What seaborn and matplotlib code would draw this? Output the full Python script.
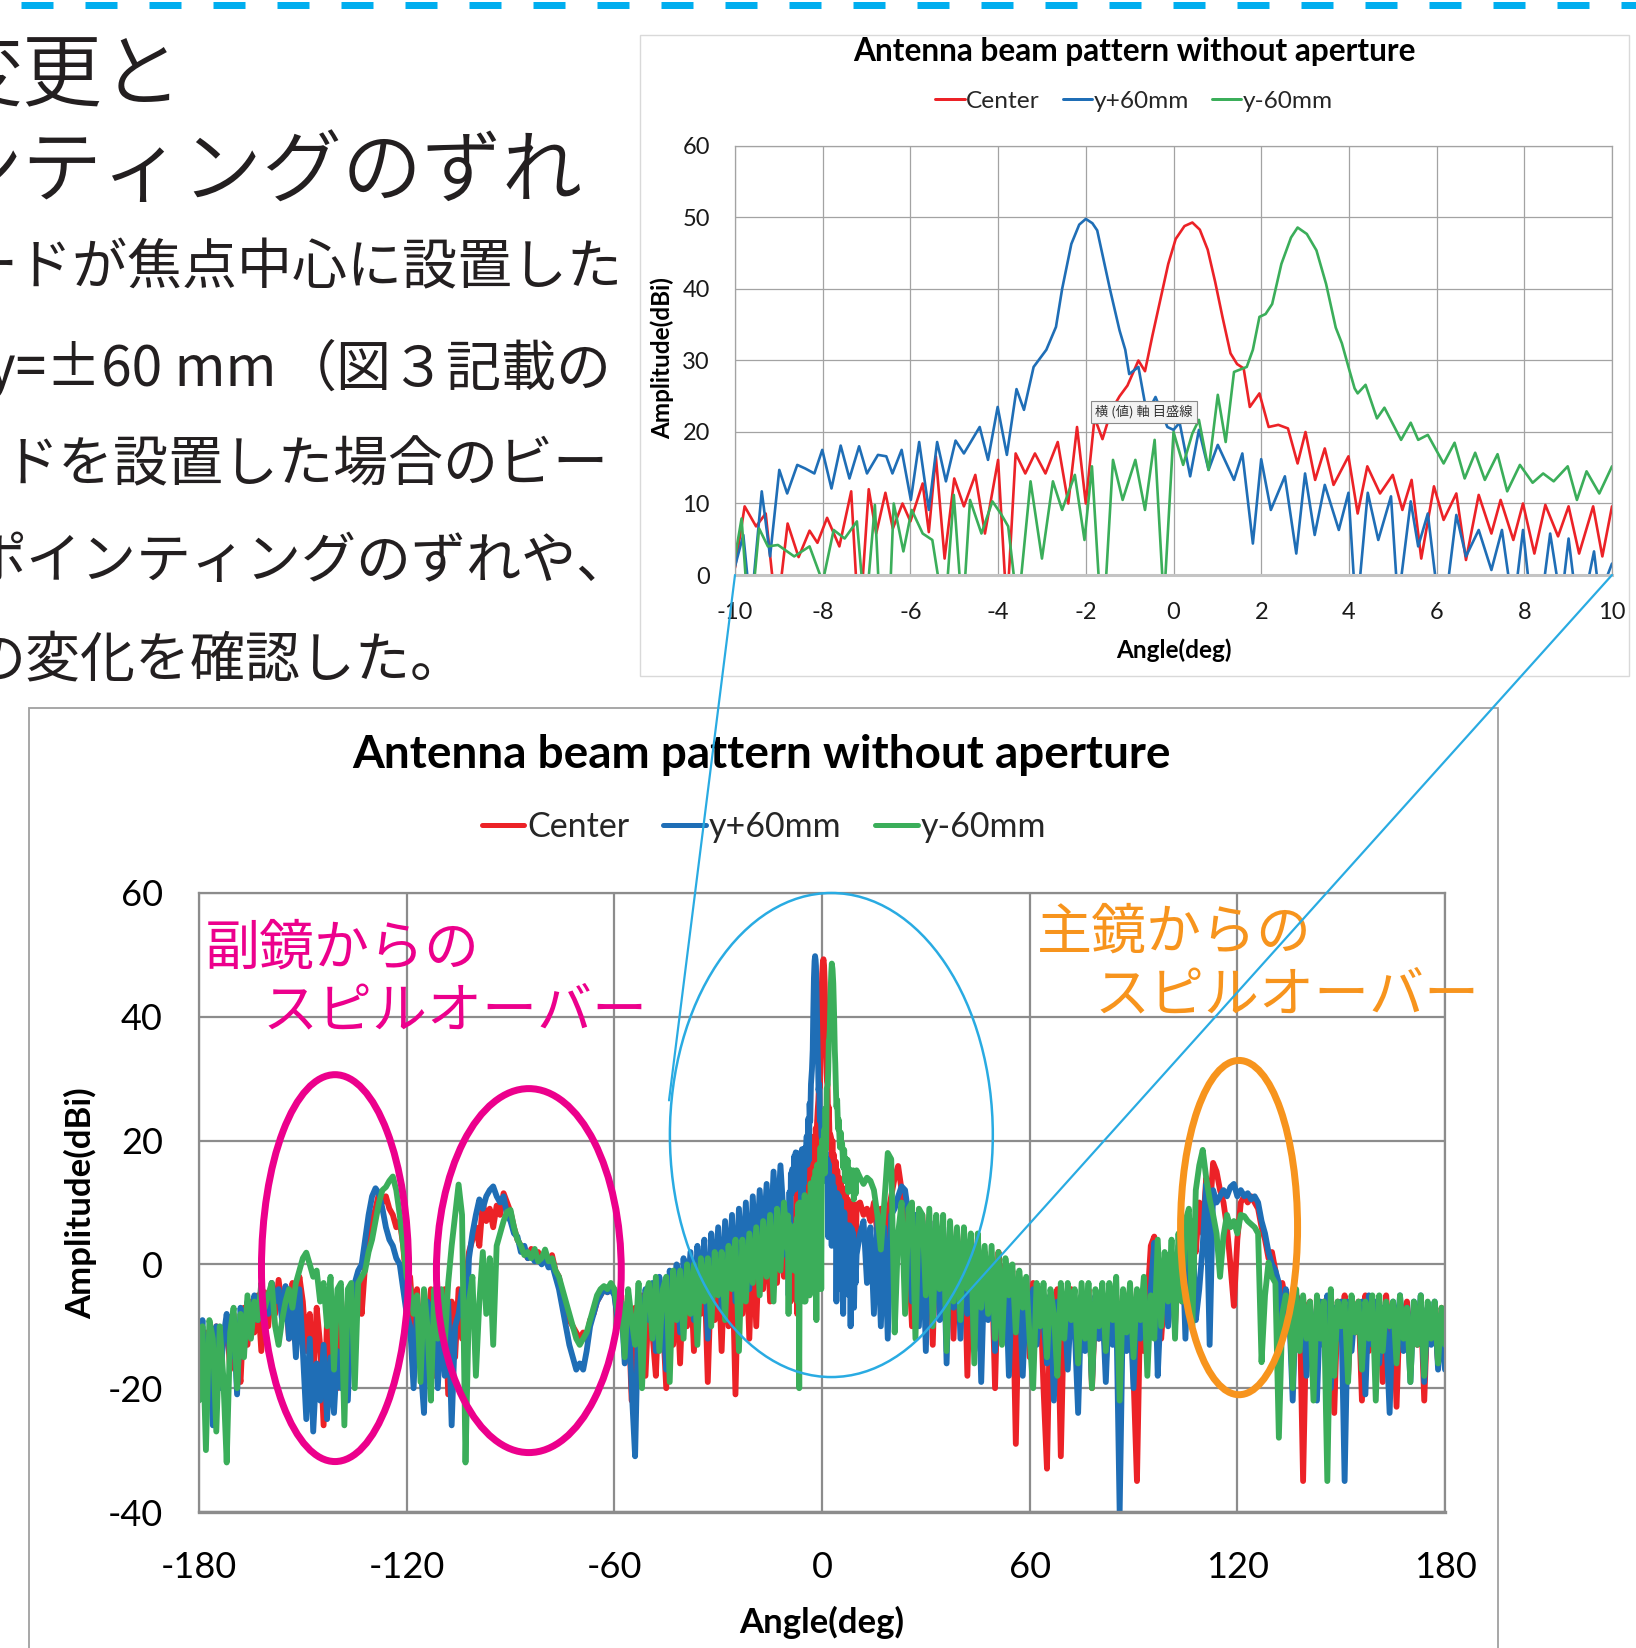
import numpy as np
import pandas as pd
import matplotlib
matplotlib.use("Agg")
import matplotlib.pyplot as plt
import seaborn as sns
from matplotlib.patches import Ellipse, Rectangle, ConnectionPatch
from matplotlib.lines import Line2D

# ------------------------------------------------------------------ data
series_names = ["Center", "y+60mm", "y-60mm"]
series_colors = ["#EC2227", "#1F6EB6", "#3BAE5A"]

main_xticks = [-180, -120, -60, 0, 60, 120, 180]
main_yticks = [-40, -20, 0, 20, 40, 60]
inset_xticks = [-10, -8, -6, -4, -2, 0, 2, 4, 6, 8, 10]
inset_yticks = [0, 10, 20, 30, 40, 50, 60]

# zoomed pattern (-10..10 deg)
inset_angle_center = [-10.0, -9.78, -9.52, -9.3, -9.05, -8.8, -8.55, -8.3, -8.12, -7.9,
                      -7.62, -7.35, -7.17, -6.95, -6.78, -6.57, -6.4, -6.18, -6.0, -5.72,
                      -5.58, -5.42, -5.22, -5.0, -4.78, -4.52, -4.3, -4.0, -3.8, -3.6,
                      -3.38, -3.16, -2.92, -2.64, -2.4, -2.2, -2.0, -1.8, -1.62, -1.42,
                      -1.23, -1.05, -0.8, -0.65, -0.48, -0.3, -0.12, 0.05, 0.25, 0.43,
                      0.6, 0.78, 0.95, 1.12, 1.3, 1.45, 1.6, 1.74, 1.96, 2.17,
                      2.39, 2.61, 2.83, 3.01, 3.23, 3.45, 3.65, 3.99, 4.2, 4.42,
                      4.71, 5.0, 5.22, 5.43, 5.65, 5.94, 6.16, 6.45, 6.67, 6.96,
                      7.25, 7.46, 7.75, 7.97, 8.23, 8.48, 8.77, 9.01, 9.25, 9.57,
                      9.78, 10.0]
inset_amp_center = [1.0, 9.6, 6.8, 8.6, -6.0, 7.2, 2.5, 6.2, 4.5, 8.0,
                    4.0, 11.7, -8.0, 12.0, 5.8, 11.5, 6.5, 10.0, 7.5, 12.8,
                    6.0, 16.6, 2.3, 13.5, 9.6, 14.0, 5.8, 16.1, -5.0, 17.0,
                    14.2, 17.0, 14.2, 18.6, 10.0, 20.7, 10.0, 22.0, 19.0, 23.0,
                    25.0, 26.5, 30.0, 28.5, 33.5, 38.5, 43.5, 47.0, 48.8, 49.3,
                    48.3, 45.5, 41.0, 36.0, 31.0, 29.5, 28.9, 23.5, 25.4, 20.7,
                    21.0, 20.5, 15.6, 20.0, 13.3, 17.7, 12.6, 16.6, 8.6, 15.2,
                    11.4, 14.0, 9.1, 13.3, 2.3, 12.4, 7.7, 11.4, 2.1, 11.2,
                    5.8, 10.5, 4.9, 10.0, 3.0, 9.8, 5.4, 9.6, 3.0, 9.6,
                    2.6, 9.6]

inset_angle_yplus = [-10.0, -9.81, -9.64, -9.39, -9.2, -8.99, -8.81, -8.58, -8.4, -8.19,
                     -8.01, -7.8, -7.59, -7.39, -7.17, -6.99, -6.74, -6.55, -6.41, -6.2,
                     -5.99, -5.8, -5.58, -5.39, -5.19, -4.97, -4.78, -4.42, -4.23, -4.01,
                     -3.8, -3.58, -3.41, -3.19, -2.9, -2.68, -2.54, -2.33, -2.15, -2.0,
                     -1.85, -1.74, -1.45, -1.23, -1.1, -1.01, -0.8, -0.65, -0.56, -0.41,
                     -0.14, 0.0, 0.14, 0.38, 0.58, 0.8, 1.01, 1.38, 1.57, 1.81,
                     2.0, 2.22, 2.54, 2.8, 3.0, 3.22, 3.45, 3.77, 3.99, 4.17,
                     4.43, 4.67, 4.96, 5.12, 5.41, 5.58, 5.8, 6.12, 6.45, 6.67,
                     6.96, 7.25, 7.49, 7.75, 7.97, 8.26, 8.59, 8.84, 9.01, 9.25,
                     9.59, 9.71, 10.0]
inset_amp_yplus = [1.2, 5.6, -5.0, 11.7, 2.6, 14.7, 11.4, 15.4, 14.9, 14.2,
                   17.5, 12.1, 18.1, 13.5, 18.0, 14.2, 16.8, 16.6, 14.2, 17.5,
                   10.5, 18.6, 9.1, 18.6, 13.1, 18.8, 17.0, 20.7, 16.1, 23.5,
                   16.8, 26.0, 23.1, 29.1, 31.5, 34.7, 40.0, 46.3, 49.0, 49.8,
                   49.2, 48.2, 40.0, 34.2, 31.5, 28.1, 29.1, 24.0, 23.1, 24.9,
                   20.7, 20.3, 21.3, 13.8, 20.3, 14.7, 18.2, 13.3, 17.0, 4.4,
                   16.2, 9.1, 13.8, 3.0, 14.2, 5.6, 12.6, 6.3, 11.5, -6.0,
                   11.5, 4.9, 11.0, -4.0, 10.3, 4.0, 8.6, -8.0, 8.4, 2.6,
                   6.3, 0.7, 6.3, -5.0, 6.3, -10.0, 5.8, -4.0, 5.1, -7.0,
                   3.3, -3.0, 1.6]

inset_angle_yminus = [-10.0, -9.85, -9.67, -9.45, -9.25, -9.02, -8.65, -8.3, -8.0, -7.75,
                      -7.5, -7.22, -7.03, -6.81, -6.58, -6.38, -6.16, -5.97, -5.72, -5.5,
                      -5.22, -5.01, -4.81, -4.64, -4.38, -4.13, -3.94, -3.77, -3.55, -3.26,
                      -3.0, -2.75, -2.54, -2.25, -2.03, -1.86, -1.62, -1.38, -1.16, -0.87,
                      -0.65, -0.43, -0.22, 0.0, 0.22, 0.43, 0.58, 0.8, 1.01, 1.19,
                      1.38, 1.67, 1.81, 1.96, 2.1, 2.25, 2.46, 2.68, 2.83, 3.04,
                      3.26, 3.48, 3.7, 3.84, 3.99, 4.13, 4.2, 4.38, 4.64, 4.81,
                      5.19, 5.41, 5.58, 5.8, 6.16, 6.41, 6.64, 6.88, 7.1, 7.39,
                      7.61, 7.9, 8.19, 8.43, 8.67, 8.99, 9.2, 9.42, 9.71, 10.0]
inset_amp_yminus = [2.5, 7.9, -8.0, 6.5, 4.0, 4.2, 2.6, 4.0, -1.0, 6.3,
                    5.1, 7.5, -6.0, 9.8, -20.0, 10.0, 3.3, 9.1, 5.8, 4.9,
                    -6.0, 11.2, -6.0, 10.5, 5.8, 10.3, 8.6, 6.8, -5.0, 13.1,
                    2.3, 13.1, 9.1, 14.0, 4.9, 15.2, -9.0, 16.1, 10.5, 16.1,
                    9.1, 18.9, -4.0, 20.0, 15.4, 19.8, 21.7, 14.7, 25.2, 18.6,
                    28.4, 29.1, 31.5, 36.1, 36.5, 37.9, 43.5, 47.2, 48.6, 47.7,
                    45.4, 40.7, 34.6, 32.4, 29.1, 26.1, 25.4, 26.6, 21.9, 23.4,
                    18.9, 21.3, 18.9, 19.6, 15.6, 18.5, 13.5, 17.1, 13.3, 16.9,
                    11.7, 15.4, 12.9, 14.2, 13.1, 15.2, 10.5, 14.5, 11.4, 15.2]

# wide pattern outside +-10 deg, 1-degree sampling
outer_angle_left = list(range(-180, -10))   # -180 .. -11
outer_angle_right = list(range(11, 181))    # 11 .. 180

outer_left_center = [-14, -20, -11, -16, -22, -10, -18, -12, -9, -17,
                     -8, -15, -19, -7, -13, -6, -11, -5, -14, -4.5,
                     -10, -3, -8, -2.5, -7, -4, -12, -3, -9, -2,
                     -6, -14, -8, -19, -7, -13, -26, -9, -16, -8,
                     -20, -9, -14, -6, -11, -5, -3, -8, 0, 4,
                     7, 9, 11.5, 10, 11, 9, 8, 6, 7, 3,
                     -4, -2, -10, -4, -15, -6, -12, -4, -18, -5,
                     -10, -4, -21, -6, -15, -4, -12, -3, 2, 4,
                     6, 3, 10, 7, 9, 6, 9.5, 8, 11.5, 10,
                     8.5, 6, 4, 3, 2, 1, 2.5, 1, 2, 0.5,
                     1, 0, 1.5, -1, -2, -5, -7, -9, -10, -11,
                     -12, -11, -12, -9, -8, -6, -5, -4, -4.5, -3.5,
                     -4, -10, -5, -14, -6, -22, -7, -12, -5, -18,
                     -5, -11, -18, -4, -9, -20, -4, -13, -3, -16,
                     -2, -10, -1, -14, -2, -8, 0, -19, -1, -9,
                     1, -14, 2, -10, 3, -21, 3, -8, 4, -12,
                     5, -10, 6, -4, 7, -6, 9, -3, 10, -2]
outer_left_yplus = [-18, -9, -24, -11, -26, -10, -20, -12, -8, -15,
                    -9, -21, -7, -14, -6, -11, -5, -9, -4, -7,
                    -8, -3, -6, -4, -9, -3.5, -12, -6, -15, -4,
                    -14, -25, -12, -27, -16, -22, -13, -25, -15, -24,
                    -14, -20, -10, -22, -8, -3, -1, 0, 4, 8,
                    11, 12.3, 11.5, 9, 6, 4, 3, 1, 0, -4,
                    -8, -10, -20, -7, -16, -24, -6, -12, -5, -20,
                    -8, -18, -6, -26, -10, -8, -4, -14, 1, 5,
                    8, 10.5, 9, 11, 12, 12.6, 11, 10, 11, 8,
                    7, 5, 4.5, 2, 3, 1, 1.5, 0.5, 1, 0,
                    1, -0.5, 0, -2, -4, -7, -10, -13, -15, -17,
                    -16, -17, -14, -10, -8, -6, -5, -4, -4.5, -4,
                    -5, -9, -6, -16, -5, -20, -31, -6, -12, -4,
                    -9, -3, -14, -2, -8, -17, -1, -7, 0, -11,
                    1, -6, 2, -9, 3, -5, 4, -12, 5, -4,
                    6, -7, 7, -3, 8, -6, 9, -2, 10, -4,
                    11, 0, 12, 3, 13, 2, 15, 5, 16, 7]
outer_left_yminus = [-22, -10, -30, -9, -12, -27, -10, -18, -32, -11,
                     -7, -20, -8, -15, -5, -12, -6, -9, -3, -7,
                     -5, -3, -10, -13, -9, -6, -4, -7, -3, -1,
                     1, 1.9, 0, -2, -1, -6, -3, -10, -2, -17,
                     -4, -3, -26, -4, -3, -20, -3, -2, -1, 2,
                     4, 7, 10, 12, 12.5, 13.5, 14.2, 12, 8, 3,
                     -2, -4, -8, -5, -19, -4, -10, -22, -4, -12,
                     -4, -13, -3, 3, 8, 12.9, 8, -32, -6, -2,
                     -18, -6, 2, -8, 1, -13, 3, 5, 7, 8.5,
                     8.8, 6, 4, 3, 1.5, 2, 1, 2.5, 0.5, 1,
                     2.4, 0.5, 1, -1, -2, -4, -6, -8, -10, -12,
                     -13, -12, -11, -9, -7, -5, -4, -3.5, -4, -3,
                     -4, -8, -6, -15, -4, -9, -13, -3, -20, -5,
                     -3, -12, -2, -14, -4, -2, -19, -1, -9, -1,
                     -12, 0, -8, 0, -13, 1, -6, 1, -10, 2,
                     -5, 2, -9, 3, -4, 4, -14, 4, -6, 5,
                     -3, 6, -5, 7, -2, 8, -6, 9, -1, 10]

outer_right_center = [10, 8, 9, 7, 10, 5, 9, -6, 8, 11,
                      14, 15.9, 12, 6, 2, -10, 7, -4, 8, -6,
                      7, -13, 6, -5, 5, -8, 6, -12, 4, -3,
                      5, -18, 3, -6, 4, -10, 2, -4, 1, -20,
                      2, -12, 0, -6, -1, -29, -2, -9, -3, -15,
                      -3, -12, -4, -20, -33, -5, -12, -4, -31, -6,
                      -14, -4, -9, -17, -5, -10, -4, -20, -6, -12,
                      -5, -16, -4, -11, -5, -15, -6, -9, -4, -18,
                      -35, -5, -14, -6, 3, 4.5, -8, -12, -4, -8,
                      0, -10, 3, -6, 4, -8, 6, 2, 10, 5,
                      14, 8, 16.4, 15, 12, 10, 6, 0, -6.7, 4,
                      10, 11, 10, 11, 10, 9, 6, 4, 1, 2,
                      -1, -4, -3, -6, -8, -16, -5, -6, -35, -7,
                      -6, -20, -7, -13, -6, -9, -5, -24, -6, -12,
                      -5, -18, -7, -11, -6, -22, -5, -14, -7, -10,
                      -6, -19, -5, -12, -7, -23, -6, -10, -6, -15,
                      -7, -13, -6, -22, -7, -11, -8, -16, -7, -10]
outer_right_yplus = [5, 7, -3, 6, -8, 7, -10, 6, -12, 8,
                     9, 11, 12.6, 12, 8, -6, 8, -10, 7, -14,
                     7, -5, 6, -9, 6, -16, 5, -7, 4, -12,
                     4, -8, 3, -14, 2, -19, 1, -9, 1, -14,
                     0, -10, -1, -18, -2, -8, -3, -18, -4, -11,
                     -4, -13, -5, -9, -16, -5, -22, -6, -11, -5,
                     -17, -6, -10, -24, -5, -14, -6, -19, -5, -12,
                     -6, -19, -5, -13, -6, -40, -5, -14, -6, -20,
                     -6, -12, -5, -14, -4, 3.5, -18, -5, -3, -10,
                     -3, -8, 2, 6, -12, 4, 7, -9, -4, 3,
                     13, -13, 12, 10, 11, 12, 11, 12.5, 13, 11,
                     12, 11, 11.5, 10.5, 11, 10, 7, 5, 2, 0,
                     -1, -3, -12, -4, -8, -22, -5, -12, -6, -18,
                     -7, -11, -22, -6, -13, -5, -20, -7, -12, -6,
                     -35, -6, -14, -7, -10, -6, -21, -5, -13, -6,
                     -16, -7, -11, -24, -6, -13, -5, -14, -7, -19,
                     -6, -12, -5, -19, -7, -13, -6, -17, -8, -17]
outer_right_yminus = [14, 13, 14, 13.5, 12, 8, 2.4, 10, 18, 17,
                      -11, 5, 10, -8, 9, 10, -12, 9, 8, -5,
                      9, -10, 8, -4, 8, -14, 7, -6, 6, -9,
                      6, -4, 5, -16, 5, -7, 3, -8, 3, -12,
                      2, -13, 1, -5, 0, -11, -1, -7, -2, -12,
                      -20, -3, -10, -3, -15, -4, -8, -18, -3, -12,
                      -3, -9, -4, -16, -3, -12, -3, -20, -4, -10,
                      -3, -14, -3, -9, -2, -22, -4, -11, -3, -15,
                      -4, -9, -2, -18, -5, -12, 4, -10, 2, -6,
                      4, -12, 5, -6, 7, 9, -10, 12, 16, 18.5,
                      14, 10.5, 8, 5, -2, 4.6, 8, 6, 7, 5,
                      8, 7.8, 7, 6.5, 6, 5, -15.8, -5, 0.3, -2,
                      -3, -28, -8, -5, -6, -20, -4, -14, -5, -12,
                      -6, -22, -5, -12, -6, -35, -4, -18, -6, -10,
                      -6, -19, -5, -11, -6, -17, -6, -12, -5, -22,
                      -5, -14, -6, -10, -6, -16, -5, -12, -7, -19,
                      -6, -13, -5, -18, -6, -12, -6, -16, -7, -13]

# ------------------------------------------------------------------ tables
parts = {
    "Center": (inset_angle_center, inset_amp_center, outer_left_center, outer_right_center),
    "y+60mm": (inset_angle_yplus, inset_amp_yplus, outer_left_yplus, outer_right_yplus),
    "y-60mm": (inset_angle_yminus, inset_amp_yminus, outer_left_yminus, outer_right_yminus),
}
inset_frames, main_frames = [], []
for name in series_names:
    ia, iv, lv, rv = parts[name]
    assert len(ia) == len(iv), name
    assert len(lv) == len(outer_angle_left) and len(rv) == len(outer_angle_right), name
    inset_frames.append(pd.DataFrame({"angle": ia, "amp": iv, "series": name}))
    main_frames.append(pd.DataFrame({
        "angle": list(outer_angle_left) + list(ia) + list(outer_angle_right),
        "amp": list(lv) + list(iv) + list(rv),
        "series": name}))
inset_df = pd.concat(inset_frames, ignore_index=True)
main_df = pd.concat(main_frames, ignore_index=True)

# ------------------------------------------------------------------ figure
sns.set_style("white")
plt.rcParams["font.family"] = ["Lato", "Noto Sans CJK JP", "DejaVu Sans"]
plt.rcParams["axes.unicode_minus"] = False
plt.rcParams["lines.scale_dashes"] = False

W, H = 1636, 1648
fig = plt.figure(figsize=(W / 100, H / 100), dpi=100)
fig.patch.set_facecolor("white")


def X(px):
    return px / W


def Y(py):
    return 1 - py / H


def PT(px):
    return px * 0.72


jp = ["Noto Sans CJK JP", "DejaVu Sans"]

# top dashed rule
fig.add_artist(Line2D([X(21), X(1660)], [Y(4.5), Y(4.5)], transform=fig.transFigure,
                      color="#00AEEF", lw=PT(7), linestyle=(0, (PT(32), PT(32))),
                      dash_capstyle="butt"))

# body text (cut at the left edge, as in the page)
big = dict(family=jp, color="#231F20", fontweight=350, ha="left", va="center", fontsize=PT(80))
body = dict(family=jp, color="#231F20", fontweight="normal", va="center", fontsize=PT(55))
fig.text(X(-58), Y(77), "変更と", **big)
fig.text(X(-58), Y(173), "ンティングのずれ", **big)
fig.text(X(-38), Y(269), "ードが焦点中心に設置した", ha="left", **body)
fig.text(X(-13), Y(370), "y=±60 mm", ha="left", **body)
fig.text(X(612), Y(370), "（図３記載の", ha="right", **body)
fig.text(X(4), Y(466), "ドを設置した場合のビー", ha="left", **body)
fig.text(X(-28), Y(562), "ポインティングのずれや、", ha="left", **body)
fig.text(X(-30), Y(661), "の変化を確認した。", ha="left", **body)

# frames
fig.add_artist(Rectangle((X(640), Y(676)), (1629 - 640) / W, (676 - 35) / H,
                         transform=fig.transFigure, fill=False, ec="#d9d9d9", lw=1.0))
fig.add_artist(Rectangle((X(29), Y(1700)), (1498 - 29) / W, (1700 - 708) / H,
                         transform=fig.transFigure, fill=False, ec="#a0a0a0", lw=1.3))

# ------------------------------------------------------------------ inset chart
ax_in = fig.add_axes([X(735), Y(575), (1612 - 735) / W, (575 - 146) / H])
sns.lineplot(data=inset_df, x="angle", y="amp", hue="series", hue_order=series_names,
             palette=series_colors, estimator=None, sort=False, linewidth=1.9,
             legend=False, ax=ax_in, solid_joinstyle="round", solid_capstyle="round")
ax_in.set_xlim(-10, 10)
ax_in.set_ylim(0, 60)
ax_in.set_xticks(inset_xticks)
ax_in.set_xticklabels([str(v) for v in inset_xticks])
ax_in.set_yticks(inset_yticks)
ax_in.set_yticklabels([str(v) for v in inset_yticks])
ax_in.set_xlabel("")
ax_in.set_ylabel("")
ax_in.grid(True, color="#a3a3a3", lw=0.9)
ax_in.set_axisbelow(True)
for s in ax_in.spines.values():
    s.set_color("#a3a3a3")
    s.set_linewidth(0.9)
ax_in.spines["bottom"].set_color("#c4c4c4")
ax_in.spines["bottom"].set_linewidth(2.2)
ax_in.tick_params(axis="x", length=0, labelsize=17, pad=19.5, colors="#1a1a1a")
ax_in.tick_params(axis="y", length=0, labelsize=17, pad=18, colors="#1a1a1a")

fig.text(X(1134), Y(52), "Antenna beam pattern without aperture", ha="center", va="center",
         fontsize=22.8, fontweight="bold", color="black")
fig.text(X(1174), Y(650), "Angle(deg)", ha="center", va="center", fontsize=17.5,
         fontweight="bold", color="black")
fig.text(X(662), Y(358), "Amplitude(dBi)", ha="center", va="center", rotation=90,
         fontsize=17.5, fontweight="bold", color="black")
inset_handles = [Line2D([], [], color=c, lw=PT(3)) for c in series_colors]
fig.legend(inset_handles, series_names, loc="center", bbox_to_anchor=(X(1134), Y(101)),
           ncol=3, frameon=False, fontsize=17.6, handlelength=1.2, handletextpad=0.05,
           columnspacing=0.95, borderpad=0, borderaxespad=0)

fig.text(X(1144), Y(412), "横 (値) 軸 目盛線", ha="center", va="center", fontsize=9.5,
         family=jp, color="#333333", zorder=8,
         bbox=dict(boxstyle="square,pad=0.3", fc="#f3f3f3", ec="#8a8a8a", lw=0.8))

# ------------------------------------------------------------------ main chart
ax = fig.add_axes([X(199), Y(1512), (1445 - 199) / W, (1512 - 893) / H])
sns.lineplot(data=main_df, x="angle", y="amp", hue="series", hue_order=series_names,
             palette=series_colors, estimator=None, sort=False, linewidth=4.2,
             legend=False, ax=ax, solid_joinstyle="round", solid_capstyle="round")
ax.set_xlim(-180, 180)
ax.set_ylim(-40, 60)
ax.set_xticks(main_xticks)
ax.set_xticklabels([str(v) for v in main_xticks])
ax.set_yticks(main_yticks)
ax.set_yticklabels([str(v) for v in main_yticks])
ax.set_xlabel("")
ax.set_ylabel("")
ax.grid(True, color="#8c8c8c", lw=1.6)
ax.set_axisbelow(True)
for s in ax.spines.values():
    s.set_color("#8c8c8c")
    s.set_linewidth(1.6)
ax.spines["bottom"].set_linewidth(2.4)
ax.tick_params(axis="x", length=0, labelsize=26, pad=28, colors="black")
ax.tick_params(axis="y", length=0, labelsize=26, pad=26, colors="black")

fig.text(X(762), Y(755), "Antenna beam pattern without aperture", ha="center", va="center",
         fontsize=33, fontweight="bold", color="black")
fig.text(X(822), Y(1622), "Angle(deg)", ha="center", va="center", fontsize=25,
         fontweight="bold", color="black")
fig.text(X(81), Y(1203), "Amplitude(dBi)", ha="center", va="center", rotation=90,
         fontsize=25, fontweight="bold", color="black")
main_handles = [Line2D([], [], color=c, lw=PT(5)) for c in series_colors]
fig.legend(main_handles, series_names, loc="center", bbox_to_anchor=(X(764), Y(827)),
           ncol=3, frameon=False, fontsize=24.5, handlelength=1.25, handletextpad=0.08,
           columnspacing=1.0, borderpad=0, borderaxespad=0)

# ------------------------------------------------------------------ annotations
magenta, orange, cyan = "#EC008C", "#F7941D", "#29ABE2"
for (cx, cy, w, h, col, lw) in [(-140.7, -0.6, 42.5, 62.5, magenta, PT(7)),
                                 (-84.7, -1.0, 53.4, 58.8, magenta, PT(7)),
                                 (120.5, 5.95, 33.8, 54.0, orange, PT(7)),
                                 (2.7, 20.9, 93.3, 78.2, cyan, PT(2.5))]:
    ax.add_patch(Ellipse((cx, cy), w, h, fill=False, ec=col, lw=lw, zorder=6, clip_on=False))

note = dict(family=jp, fontweight="normal", ha="left", va="center", fontsize=PT(55))
fig.text(X(205), Y(949), "副鏡からの", color=magenta, **note)
fig.text(X(262), Y(1012), "スピルオーバー", color=magenta, **note)
fig.text(X(1037), Y(933), "主鏡からの", color=orange, **note)
fig.text(X(1095), Y(996), "スピルオーバー", color=orange, **note)

for (xa, ya), (xb, yb) in [((-10, 0), (-44.2, 26.5)), ((10, 0), (39.3, -6.3))]:
    con = ConnectionPatch(xyA=(xa, ya), coordsA=ax_in.transData, xyB=(xb, yb),
                          coordsB=ax.transData, color=cyan, lw=PT(2.2), zorder=10)
    fig.add_artist(con)

fig.savefig("out.png", dpi=100, facecolor="white")
